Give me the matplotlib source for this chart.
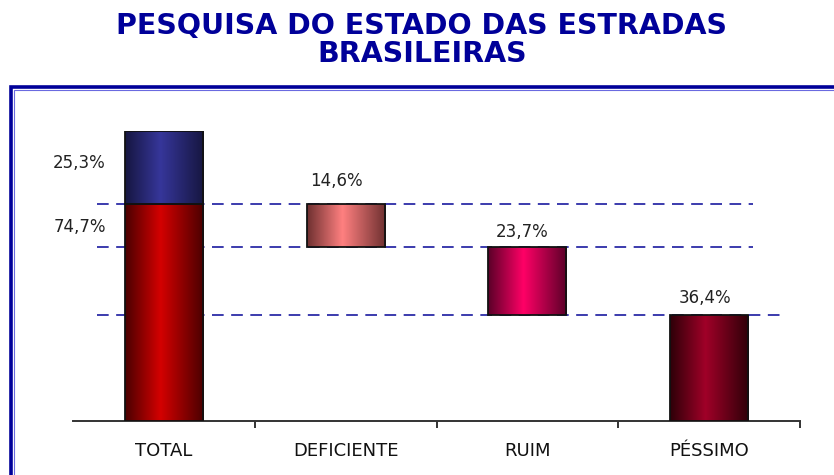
import numpy as np
import matplotlib
matplotlib.use('Agg')
from matplotlib import pyplot as plt
from matplotlib.colors import LinearSegmentedColormap
from matplotlib.patches import Rectangle

# dados da pesquisa (%)
categories = ['TOTAL', 'DEFICIENTE', 'RUIM', 'PÉSSIMO']
total_bad = 74.7
total_good = 25.3
deficiente = 14.6
ruim = 23.7
pessimo = 36.4
labels = ['25,3%', '74,7%', '14,6%', '23,7%', '36,4%']

plt.rcParams['font.family'] = ['Liberation Sans', 'DejaVu Sans']

fig = plt.figure(figsize=(8.34, 4.75), dpi=100)
W, H = 834, 475

# moldura azul (cortada a direita e embaixo)
fig.add_artist(Rectangle((10.5 / W, -0.2), 1.2, 1.2 - 87 / H,
                         transform=fig.transFigure, fill=False,
                         edgecolor='#000099', linewidth=2.6))
fig.add_artist(Rectangle((13.5 / W, -0.2), 1.2, 1.2 - 90 / H,
                         transform=fig.transFigure, fill=False,
                         edgecolor='#6a6ae0', linewidth=0.8))

fig.text(422 / W, 1 - 40 / H, 'PESQUISA DO ESTADO DAS ESTRADAS\nBRASILEIRAS',
         ha='center', va='center', fontsize=20.5, fontweight='bold',
         color='#000099', family='DejaVu Sans', linespacing=1.0)

ax = fig.add_axes([73 / W, 1 - 421 / H, 727 / W, 290 / H])
ax.set_xlim(-0.5, 3.5)
ax.set_ylim(0, 100)

x = np.arange(len(categories))
bw = 0.43

# linhas tracejadas de referencia
levels = [total_bad, total_bad - deficiente, pessimo]
ends = [3.24, 3.24, 3.39]
for lv, e in zip(levels, ends):
    ax.plot([-0.37, e], [lv, lv], color='#1a1aa0', lw=1.2,
            dashes=(7, 4.5), zorder=1)


def grad_bar(xc, bottom, height, edge, center):
    bars = ax.bar(xc, height, bw, bottom=bottom, facecolor='none',
                  edgecolor='#111111', linewidth=1.3, zorder=4)
    p = bars[0]
    cmap = LinearSegmentedColormap.from_list('g', [(0, edge), (0.45, center), (1, edge)])
    g = np.linspace(0, 1, 256).reshape(1, -1)
    im = ax.imshow(g, cmap=cmap, aspect='auto', zorder=3,
                   extent=(xc - bw / 2, xc + bw / 2, bottom, bottom + height))
    im.set_clip_path(p)
    return p


grad_bar(x[0], 0, total_bad, '#4a0000', '#d40000')
grad_bar(x[0], total_bad, total_good, '#161640', '#36369a')
grad_bar(x[1], total_bad - deficiente, deficiente, '#6e3030', '#ff8080')
grad_bar(x[2], pessimo, ruim, '#5a0028', '#ff0066')
grad_bar(x[3], 0, pessimo, '#2e0008', '#a00028')
ax.set_xlim(-0.5, 3.5)
ax.set_ylim(0, 100)

tk = dict(fontsize=12, color='#222222', family='DejaVu Sans')
ax.text(-0.32, total_bad + total_good / 2 + 1.5, labels[0], ha='right', va='center', **tk)
ax.text(-0.32, total_bad - 7.8, labels[1], ha='right', va='center', **tk)
ax.text(x[1] - 0.05, total_bad + 5, labels[2], ha='center', va='bottom', **tk)
ax.text(x[2] - 0.03, total_bad - deficiente + 1.8, labels[3], ha='center', va='bottom', **tk)
ax.text(x[3] - 0.02, pessimo + 2.8, labels[4], ha='center', va='bottom', **tk)

for s in ['top', 'right', 'left']:
    ax.spines[s].set_visible(False)
ax.spines['bottom'].set_color('#333333')
ax.spines['bottom'].set_linewidth(1.4)
ax.set_yticks([])
ax.set_xticks(x)
ax.set_xticklabels(categories, fontsize=13, color='#111111', family='DejaVu Sans')
ax.tick_params(axis='x', which='major', length=0, pad=15)
ax.set_xticks([0.5, 1.5, 2.5, 3.5], minor=True)
ax.tick_params(axis='x', which='minor', length=5, width=1.4, color='#333333')
ax.patch.set_visible(False)

fig.savefig('out.png', dpi=100)
